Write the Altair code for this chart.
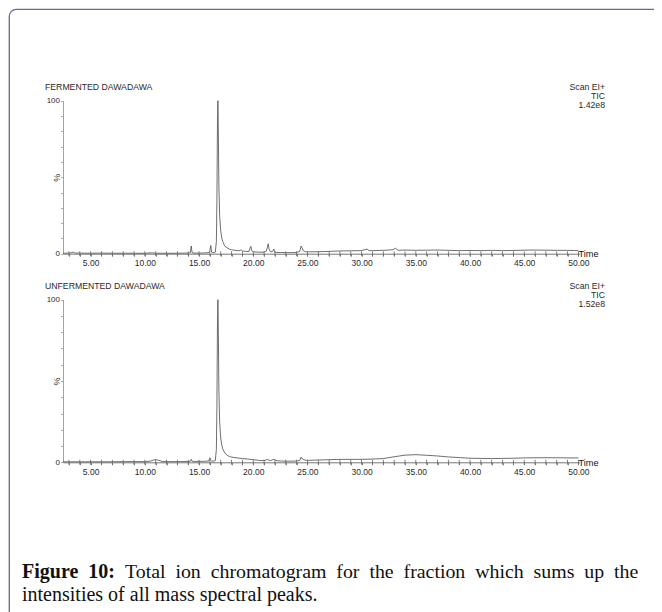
import altair as alt
import pandas as pd

# ---------------- data ----------------
fer_time = [2.45, 3.0, 3.4, 3.6, 4.0, 5.0, 6.0, 7.0, 8.0, 9.0, 10.0, 10.7, 11.0, 12.0, 13.0,
            14.0, 14.2, 14.28, 14.36, 14.5, 15.0, 15.5, 15.9, 16.0, 16.08, 16.16, 16.3, 16.5,
            16.6, 16.65, 16.7, 16.74, 16.78, 16.83, 16.9, 17.0, 17.1, 17.2, 17.25, 17.3, 17.4,
            17.6, 17.8, 18.0, 18.3, 18.6, 18.8, 18.9, 19.0, 19.3, 19.6, 19.7, 19.78, 19.86,
            20.0, 20.5, 21.0, 21.2, 21.3, 21.38, 21.46, 21.6, 21.8, 21.9, 22.0, 22.2, 22.5,
            23.0, 23.5, 24.0, 24.3, 24.42, 24.5, 24.6, 24.8, 25.0, 26.0, 27.0, 28.0, 29.0,
            30.0, 30.5, 30.7, 31.0, 32.0, 32.9, 33.1, 33.4, 34.0, 35.0, 36.0, 37.0, 38.0,
            39.0, 40.0, 41.0, 42.0, 43.0, 44.0, 45.0, 46.0, 47.0, 48.0, 49.0, 50.0]
fer_pct = [0.3, 0.4, 0.9, 0.4, 0.4, 0.3, 0.4, 0.3, 0.3, 0.3, 0.3, 0.6, 0.3, 0.3, 0.3,
           0.4, 0.6, 5.0, 0.7, 0.4, 0.4, 0.5, 0.7, 2.0, 5.4, 1.0, 0.7, 1.0,
           8.0, 35.0, 85.0, 100.0, 80.0, 45.0, 25.0, 15.0, 10.0, 7.8, 7.2, 6.0, 4.8,
           3.8, 3.0, 2.6, 2.2, 1.9, 2.2, 2.5, 1.8, 1.5, 1.4, 3.5, 4.8, 2.0,
           1.2, 1.0, 1.0, 1.6, 4.0, 6.5, 3.0, 1.2, 1.5, 3.0, 1.0, 0.8, 0.8,
           0.7, 0.7, 0.8, 1.6, 5.0, 4.0, 2.0, 1.3, 1.2, 1.3, 1.5, 1.8, 1.9,
           2.0, 3.0, 2.0, 2.0, 2.2, 2.6, 3.6, 2.2, 2.4, 2.2, 2.3, 2.4, 2.2,
           2.0, 2.1, 2.0, 2.2, 2.0, 2.1, 2.3, 2.4, 2.3, 2.2, 2.2, 2.0]

unf_time = [2.45, 3.0, 4.0, 5.0, 6.0, 7.0, 8.0, 9.0, 10.0, 10.5, 10.8, 11.0, 11.3, 11.6,
            12.0, 13.0, 14.0, 14.2, 14.28, 14.36, 14.5, 15.0, 15.5, 15.9, 16.0, 16.08,
            16.16, 16.3, 16.5, 16.6, 16.65, 16.7, 16.74, 16.78, 16.83, 16.9, 17.0, 17.1,
            17.2, 17.4, 17.6, 17.8, 18.0, 18.5, 19.0, 19.5, 20.0, 20.5, 21.0, 21.3, 21.6,
            21.9, 22.2, 22.5, 23.0, 23.5, 24.0, 24.3, 24.42, 24.55, 24.8, 25.0, 26.0, 27.0,
            28.0, 29.0, 30.0, 31.0, 32.0, 33.0, 34.0, 35.0, 36.0, 37.0, 38.0, 39.0, 40.0,
            41.0, 42.0, 43.0, 44.0, 45.0, 46.0, 47.0, 48.0, 49.0, 50.0]
unf_pct = [0.3, 0.3, 0.3, 0.3, 0.3, 0.3, 0.4, 0.4, 0.4, 0.7, 1.4, 1.6, 1.2, 0.5,
           0.4, 0.4, 0.5, 0.6, 1.8, 0.6, 0.5, 0.6, 0.6, 0.8, 2.8, 1.2,
           0.8, 0.7, 1.0, 8.0, 35.0, 85.0, 100.0, 80.0, 45.0, 25.0, 15.0, 10.5,
           8.0, 5.5, 4.3, 3.6, 3.2, 2.7, 2.3, 2.0, 1.6, 1.2, 1.0, 1.7, 1.0,
           1.9, 0.9, 0.8, 0.7, 0.7, 0.8, 1.2, 3.2, 2.0, 1.3, 1.2, 1.4, 1.6,
           1.8, 1.8, 1.8, 2.0, 2.3, 3.4, 4.4, 4.7, 4.3, 3.9, 3.3, 2.9, 2.5,
           2.4, 2.3, 2.4, 2.5, 2.7, 2.8, 2.8, 2.8, 2.7, 2.7]

x_tick_values = list(range(3, 51))
y_tick_values = list(range(0, 101, 10))

top_title = "FERMENTED DAWADAWA"
bot_title = "UNFERMENTED DAWADAWA"
top_info = ["Scan EI+", "TIC", "1.42e8"]
bot_info = ["Scan EI+", "TIC", "1.52e8"]
caption_bold = "Figure 10:"
caption_line1 = "Total ion chromatogram for the fraction which sums up the"
caption_line2 = "intensities of all mass spectral peaks."

# ---------------- layout ----------------
W, H = 646, 604
X_RANGE = [55, 571.5]
T_DOMAIN = [2.45, 50.1]
TOP_RANGE = [245.7, 92.7]
BOT_RANGE = [454.3, 291.7]
SANS = "Liberation Sans"
SERIF = "Liberation Serif"
AX = "#666666"
TXT = "#2a2a2a"


def x_scale():
    return alt.Scale(domain=T_DOMAIN, range=X_RANGE, nice=False, zero=False)


def y_scale(rng):
    return alt.Scale(domain=[0, 100], range=rng, nice=False)


def x_axis(y_pos):
    return alt.Axis(
        orient="bottom", offset=y_pos - H, values=x_tick_values,
        labelExpr="datum.value % 5 === 0 ? format(datum.value, '.2f') : ''",
        labelOverlap=False, labelFlush=False, tickSize=2.5, tickWidth=0.8,
        labelPadding=2.5, labelFont=SANS, labelFontSize=8.5, labelColor=TXT,
        domainColor=AX, tickColor=AX, domainWidth=0.9, grid=False,
        title="Time", titleX=X_RANGE[1] - 1.5, titleY=0, titleAlign="left",
        titleBaseline="middle", titleAngle=0, titleFont=SANS, titleFontSize=9.2,
        titleFontWeight="normal", titleColor="#111111", titlePadding=0,
    )


def y_axis(rng):
    return alt.Axis(
        orient="left", offset=-X_RANGE[0], values=y_tick_values,
        labelExpr="datum.value == 0 || datum.value == 100 ? datum.label : ''",
        labelOverlap=False, labelFlush=False, tickSize=2.5, tickWidth=0.8,
        labelPadding=1, labelFont=SANS, labelFontSize=8, labelColor=TXT,
        domainColor="#999999", tickColor="#999999", domainWidth=0.9, grid=False,
        title="%", titleX=-6.5, titleY=(rng[0] + rng[1]) / 2, titleAngle=-90,
        titleAlign="center", titleBaseline="middle", titleFont=SANS,
        titleFontSize=9, titleFontWeight="normal", titleColor=TXT,
    )


def trace(times, pct, rng, y_pos):
    df = pd.DataFrame({"time": times, "pct": pct})
    return alt.Chart(df).mark_line(color="#4a4a4a", strokeWidth=0.8).encode(
        x=alt.X("time:Q", scale=x_scale(), axis=x_axis(y_pos)),
        y=alt.Y("pct:Q", scale=y_scale(rng), axis=y_axis(rng)),
    )


def upper_ticks(rng):
    df = pd.DataFrame({"time": x_tick_values, "pct": [0] * len(x_tick_values)})
    return alt.Chart(df).mark_tick(orient="vertical", size=5, thickness=0.8,
                                   color=AX, opacity=1).encode(
        x=alt.X("time:Q", scale=x_scale(), axis=None),
        y=alt.Y("pct:Q", scale=y_scale(rng), axis=None),
    )


one_row = alt.Data(values=[{}])


def label(txt, x, y, align="left", size=8.5, font=SANS, weight="normal", color=TXT):
    return alt.Chart(one_row).mark_text(
        text=txt, align=align, baseline="middle", font=font, fontSize=size,
        fontWeight=weight, color=color,
    ).encode(x=alt.value(x), y=alt.value(y))


layers = [
    trace(fer_time, fer_pct, TOP_RANGE, TOP_RANGE[0]),
    trace(unf_time, unf_pct, BOT_RANGE, BOT_RANGE[0]),
    upper_ticks(TOP_RANGE),
    upper_ticks(BOT_RANGE),
]

layers.append(label(top_title, 37, 79.3, size=8.7))
for i, t in enumerate(top_info):
    layers.append(label(t, 597, 79.3 + 8.8 * i, align="right", size=8.7))
layers.append(label(bot_title, 37, 277.7, size=8.7))
for i, t in enumerate(bot_info):
    layers.append(label(t, 597, 277.7 + 9.2 * i, align="right", size=8.7))

nb = "\u00a0\u00a0"
layers.append(label(caption_bold.replace(" ", nb), 14, 563.5, size=20, font=SERIF,
                    weight="bold", color="#111111"))
layers.append(label(caption_line1.replace(" ", nb), 117, 563.5, size=19.85, font=SERIF,
                    color="#111111"))
layers.append(label(caption_line2, 14, 586.5, size=20, font=SERIF, color="#111111"))

border = alt.Chart(one_row).mark_rect(
    filled=False, stroke="#6b65a3", strokeWidth=1.3, cornerRadius=7,
).encode(x=alt.value(1.3), y=alt.value(1.3), x2=alt.value(720), y2=alt.value(720))
layers.append(border)

chart = alt.layer(*layers).resolve_scale(x="independent", y="independent").properties(
    width=W, height=H, padding=0,
    autosize=alt.AutoSizeParams(type="none"),
    background="white",
).configure_view(strokeWidth=0)

chart.save("out.html", embed_options={"renderer": "svg", "actions": False})
